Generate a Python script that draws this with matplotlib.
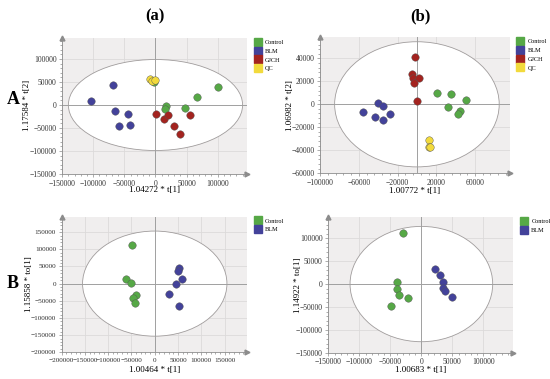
import matplotlib.pyplot as plt
from matplotlib.patches import Ellipse
from matplotlib.lines import Line2D
from matplotlib.ticker import AutoMinorLocator

plt.rcParams['font.family'] = ['Liberation Serif', 'DejaVu Serif']

# colours of the groups
GREEN = '#56a846'
BLUE = '#43429a'
RED = '#a3231f'
YELLOW = '#f2da3c'

# ---- panel A (a): PCA scores, 4 groups ----
aa_control_x = [100000, 66700, 48100, 17000, 15300, -2000]
aa_control_y = [39500, 16400, -6700, -1500, -9000, 50000]
aa_blm_x = [-68800, -103000, -65600, -43400, -58200, -40700]
aa_blm_y = [44000, 9700, -13400, -19400, -46300, -42500]
aa_gjch_x = [1000, 13800, 20100, 29100, 39700, 56100]
aa_gjch_y = [-18700, -29900, -21600, -44800, -62700, -20900]
aa_qc_x = [-8500, -5300, -1000]
aa_qc_y = [56000, 53000, 54500]

# ---- panel A (b) ----
ab_control_x = [20300, 35700, 50300, 32200, 45000, 42600]
ab_control_y = [10000, 9400, 3500, -2600, -5900, -8500]
ab_blm_x = [-55800, -39800, -34600, -43300, -35300, -27700]
ab_blm_y = [-7000, 1200, -1500, -10900, -13500, -8200]
ab_gjch_x = [-1900, -5000, -4300, 2300, -2600, 200]
ab_gjch_y = [41500, 26800, 23200, 22600, 18500, 2600]
ab_qc_x = [12700, 12000, 13700]
ab_qc_y = [-31200, -37400, -37400]

# ---- panel B (a): OPLS-DA ----
ba_control_x = [-48000, -62000, -51500, -41000, -47000, -42500]
ba_control_y = [113000, 14600, 2500, -32000, -41500, -57000]
ba_blm_x = [51500, 50000, 58000, 45700, 30700, 51500]
ba_blm_y = [46000, 37000, 12700, -2000, -30200, -66300]

# ---- panel B (b) ----
bb_control_x = [-30100, -40000, -40000, -36000, -22000, -48600]
bb_control_y = [112500, 4800, -11300, -23000, -31300, -48500]
bb_blm_x = [22600, 30100, 34400, 34400, 38000, 48600]
bb_blm_y = [33000, 19000, 4000, -7600, -15600, -28800]

fig = plt.figure(figsize=(5.5, 3.79), dpi=100)


def score_plot(rect, groups, xlim, ylim, xticks, yticks, ell, xlabel, ylabel,
               xlabel_y, ylabel_x, tick_size=5.5):
    ax = fig.add_axes(rect)
    ax.set_facecolor('#f0eeee')
    ax.set_xlim(*xlim)
    ax.set_ylim(*ylim)
    ax.set_xticks(xticks)
    ax.set_yticks(yticks)
    ax.xaxis.set_minor_locator(AutoMinorLocator(5))
    ax.yaxis.set_minor_locator(AutoMinorLocator(5))
    ax.grid(True, color='#dcdada', lw=0.6, zorder=0)
    ax.set_axisbelow(True)
    for s in ['top', 'right']:
        ax.spines[s].set_visible(False)
    for s in ['left', 'bottom']:
        ax.spines[s].set_color('#8c8c8c')
        ax.spines[s].set_linewidth(0.6)
    ax.tick_params(which='both', colors='#8c8c8c', labelcolor='#333333',
                   labelsize=tick_size, width=0.5, pad=1.5)
    ax.tick_params(which='major', length=2.5)
    ax.tick_params(which='minor', length=1.2)
    ax.add_patch(Ellipse((0, 0), 2 * ell[0], 2 * ell[1], facecolor='white',
                         edgecolor='#a09c9c', lw=0.6, zorder=1))
    ax.axhline(0, color='#a0a0a0', lw=0.7, zorder=2)
    ax.axvline(0, color='#a0a0a0', lw=0.7, zorder=2)
    # arrow heads at the end of the axes
    ax.plot(1.0, 0, '>', ms=3.5, color='#8c8c8c', transform=ax.transAxes, clip_on=False)
    ax.plot(0, 1.0, '^', ms=3.5, color='#8c8c8c', transform=ax.transAxes, clip_on=False)
    handles = []
    for name, xs, ys, col in groups:
        ax.scatter(xs, ys, s=29, color=col, edgecolor='#555555', linewidth=0.3, zorder=3)
        handles.append(Line2D([], [], marker='s', ls='', ms=6, color=col, label=name))
    ax.legend(handles=handles, loc='upper left', bbox_to_anchor=(1.0, 1.02), frameon=False,
              fontsize=4.5, handletextpad=0.2, labelspacing=0.55, borderaxespad=0.3)
    fig.text(rect[0] + rect[2] / 2, xlabel_y, xlabel, ha='center', va='center', fontsize=6.5)
    fig.text(ylabel_x, rect[1] + rect[3] / 2, ylabel, ha='center', va='center',
             rotation=90, fontsize=6.5)
    return ax


score_plot([0.113, 0.541, 0.336, 0.359],
           [('Control', aa_control_x, aa_control_y, GREEN),
            ('BLM', aa_blm_x, aa_blm_y, BLUE),
            ('GJCH', aa_gjch_x, aa_gjch_y, RED),
            ('QC', aa_qc_x, aa_qc_y, YELLOW)],
           (-150000, 147000), (-150000, 146000),
           range(-150000, 100001, 50000), range(-150000, 100001, 50000),
           (140000, 99000), '1.04272 * t[1]', '1.17584 * t[2]', 1 - 190 / 379, 27 / 550)

score_plot([0.582, 0.543, 0.345, 0.359],
           [('Control', ab_control_x, ab_control_y, GREEN),
            ('BLM', ab_blm_x, ab_blm_y, BLUE),
            ('GJCH', ab_gjch_x, ab_gjch_y, RED),
            ('QC', ab_qc_x, ab_qc_y, YELLOW)],
           (-100000, 96000), (-60000, 58500),
           range(-100000, 60001, 40000), range(-60000, 40001, 20000),
           (85000, 54500), '1.00772 * t[1]', '1.06982 * t[2]', 1 - 191 / 379, 290 / 550)

score_plot([0.112, 0.0704, 0.337, 0.358],
           [('Control', ba_control_x, ba_control_y, GREEN),
            ('BLM', ba_blm_x, ba_blm_y, BLUE)],
           (-200000, 198000), (-200000, 195000),
           range(-200000, 150001, 50000), range(-200000, 150001, 50000),
           (155000, 153000), '1.00464 * t[1]', '1.15858 * to[1]', 1 - 370 / 379, 29 / 550,
           tick_size=5.2)

score_plot([0.597, 0.0694, 0.336, 0.358],
           [('Control', bb_control_x, bb_control_y, GREEN),
            ('BLM', bb_blm_x, bb_blm_y, BLUE)],
           (-150000, 148000), (-150000, 146500),
           range(-150000, 100001, 50000), range(-150000, 100001, 50000),
           (115000, 126000), '1.00683 * t[1]', '1.14922 * to[1]', 1 - 370 / 379, 298 / 550)

fig.text(155 / 550, 1 - 16 / 379, '(a)', ha='center', va='center', fontsize=12, fontweight='bold')
fig.text(420 / 550, 1 - 16 / 379, '(b)', ha='center', va='center', fontsize=12, fontweight='bold')
fig.text(13 / 550, 1 - 100 / 379, 'A', ha='center', va='center', fontsize=13, fontweight='bold')
fig.text(13 / 550, 1 - 283 / 379, 'B', ha='center', va='center', fontsize=13, fontweight='bold')

plt.savefig('out.png', dpi=100)
